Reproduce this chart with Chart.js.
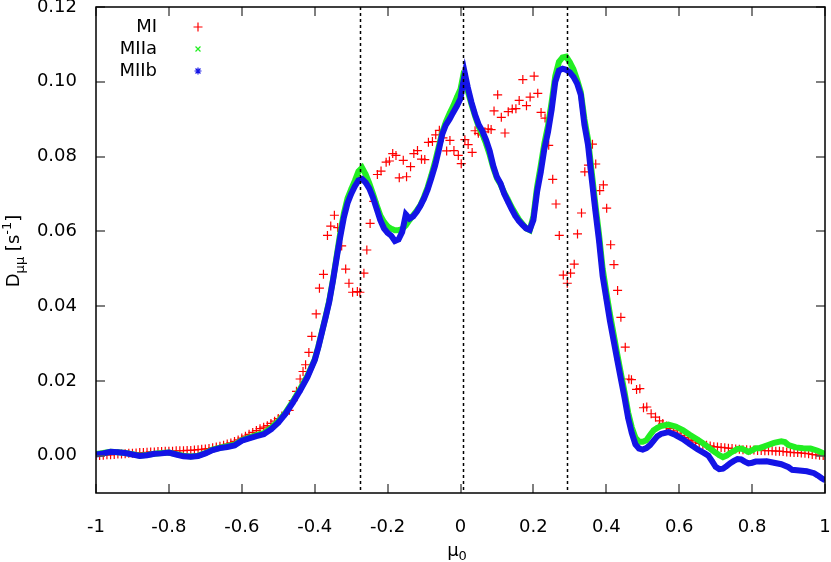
<!DOCTYPE html>
<html>
<head>
<meta charset="utf-8">
<script src="https://cdn.jsdelivr.net/npm/chart.js@4.4.0/dist/chart.umd.min.js"></script>
<style>
  html, body { margin: 0; padding: 0; background: #fff; }
  #wrap { width: 831px; height: 562px; position: relative; }
</style>
</head>
<body>
<div id="wrap"><canvas id="chart"></canvas></div>
<script>
// axis ticks
const xTicks = [-1, -0.8, -0.6, -0.4, -0.2, 0, 0.2, 0.4, 0.6, 0.8, 1];
const yTicks = [0, 0.02, 0.04, 0.06, 0.08, 0.1, 0.12];
// dotted reference lines (mu positions)
const markerLines = [-0.276, 0.006, 0.291];
const seriesNames = ["MI", "MIIa", "MIIb"];

// MI: [mu0, D]
const mi = [
  [-1.00,0.0000],[-0.99,0.0000],[-0.98,0.0001],[-0.97,0.0002],[-0.96,0.0002],[-0.95,0.0003],[-0.94,0.0004],
  [-0.93,0.0004],[-0.92,0.0005],[-0.91,0.0006],[-0.90,0.0006],[-0.89,0.0007],[-0.88,0.0008],[-0.87,0.0008],
  [-0.86,0.0009],[-0.85,0.0010],[-0.84,0.0010],[-0.83,0.0011],[-0.82,0.0011],[-0.81,0.0012],[-0.80,0.0012],
  [-0.79,0.0012],[-0.78,0.0013],[-0.77,0.0013],[-0.76,0.0013],[-0.75,0.0014],[-0.74,0.0014],[-0.73,0.0015],
  [-0.72,0.0016],[-0.71,0.0017],[-0.70,0.0018],[-0.69,0.0019],[-0.68,0.0021],[-0.67,0.0023],[-0.66,0.0025],
  [-0.65,0.0028],[-0.64,0.0031],[-0.63,0.0034],[-0.62,0.0038],[-0.61,0.0042],[-0.60,0.0047],[-0.59,0.0052],
  [-0.58,0.0057],[-0.57,0.0062],[-0.56,0.0067],[-0.55,0.0072],[-0.54,0.0076],[-0.53,0.0080],[-0.52,0.0086],
  [-0.51,0.0092],[-0.50,0.0099],[-0.49,0.0106],[-0.48,0.0113],[-0.47,0.0121],[-0.459,0.0147],[-0.45,0.0172],
  [-0.44,0.0205],[-0.432,0.0225],[-0.425,0.0243],[-0.416,0.0276],[-0.408,0.0319],[-0.396,0.0379],
  [-0.387,0.0448],[-0.376,0.0485],[-0.365,0.0589],[-0.356,0.0614],[-0.346,0.0643],[-0.337,0.0610],
  [-0.326,0.0561],[-0.315,0.0499],[-0.306,0.0461],[-0.296,0.0437],[-0.283,0.0439],[-0.276,0.0437],
  [-0.265,0.0488],[-0.257,0.0550],[-0.248,0.0621],[-0.238,0.0680],[-0.228,0.0752],[-0.218,0.0761],
  [-0.204,0.0785],[-0.195,0.0788],[-0.186,0.0808],[-0.177,0.0803],[-0.168,0.0743],[-0.157,0.0790],
  [-0.148,0.0746],[-0.137,0.0773],[-0.128,0.0808],[-0.118,0.0816],[-0.107,0.0793],[-0.098,0.0792],
  [-0.088,0.0838],[-0.077,0.0840],[-0.068,0.0858],[-0.058,0.0870],[-0.048,0.0850],[-0.038,0.0815],
  [-0.029,0.0843],[-0.018,0.0816],[-0.006,0.0803],[0.002,0.0781],[0.012,0.0845],[0.021,0.0832],
  [0.032,0.0811],[0.040,0.0869],[0.049,0.0862],[0.058,0.0858],[0.067,0.0866],[0.076,0.0874],
  [0.084,0.0872],[0.092,0.0922],[0.102,0.0965],[0.112,0.0905],[0.122,0.0863],[0.131,0.0920],
  [0.142,0.0927],[0.152,0.0928],[0.161,0.0950],[0.171,0.1006],[0.181,0.0936],[0.191,0.0959],
  [0.202,0.1015],[0.212,0.0969],[0.221,0.0918],[0.232,0.0903],[0.242,0.0830],[0.253,0.0739],
  [0.262,0.0673],[0.271,0.0589],[0.282,0.0483],[0.293,0.0461],[0.302,0.0488],[0.312,0.0512],
  [0.321,0.0593],[0.332,0.0649],[0.341,0.0759],[0.351,0.0777],[0.362,0.0833],[0.371,0.0780],
  [0.382,0.0709],[0.392,0.0724],[0.401,0.0662],[0.412,0.0564],[0.421,0.0511],[0.431,0.0442],
  [0.440,0.0370],[0.452,0.0290],[0.462,0.0205],[0.469,0.0203],[0.483,0.0177],[0.492,0.0179],
  [0.502,0.0128],[0.511,0.0130],[0.523,0.0112],[0.535,0.0103],[0.546,0.0093],[0.555,0.0086],
  [0.565,0.0079],[0.575,0.0072],[0.585,0.0066],[0.595,0.0060],[0.605,0.0054],[0.615,0.0049],
  [0.625,0.0044],[0.635,0.0040],[0.645,0.0036],[0.655,0.0033],[0.665,0.0030],[0.675,0.0028],
  [0.685,0.0026],[0.695,0.0024],[0.705,0.0023],[0.715,0.0022],[0.725,0.0021],[0.735,0.0020],
  [0.745,0.0019],[0.755,0.0018],[0.765,0.0017],[0.775,0.0016],[0.785,0.0016],[0.795,0.0015],
  [0.805,0.0015],[0.815,0.0014],[0.825,0.0014],[0.835,0.0013],[0.845,0.0013],[0.855,0.0013],
  [0.865,0.0012],[0.875,0.0012],[0.885,0.0011],[0.895,0.0010],[0.905,0.0009],[0.915,0.0008],
  [0.925,0.0008],[0.935,0.0007],[0.945,0.0006],[0.955,0.0005],[0.965,0.0003],[0.975,0.0002],
  [0.985,0.0001],[0.995,0.0000]
];

// MIIa: [mu0, D]
const miia = [
  [-1.00,0.0004],[-0.98,0.0007],[-0.96,0.0010],[-0.94,0.0009],[-0.92,0.0007],[-0.90,0.0004],[-0.88,0.0000],
  [-0.86,0.0002],[-0.84,0.0005],[-0.82,0.0007],[-0.80,0.0008],[-0.78,0.0004],[-0.76,0.0000],[-0.74,-0.0002],
  [-0.72,0.0000],[-0.70,0.0007],[-0.68,0.0016],[-0.66,0.0021],[-0.64,0.0025],[-0.62,0.0029],[-0.60,0.0041],
  [-0.58,0.0048],[-0.56,0.0055],[-0.54,0.0060],[-0.52,0.0074],[-0.50,0.0092],[-0.48,0.0115],[-0.46,0.0145],
  [-0.44,0.0178],[-0.42,0.0213],[-0.40,0.0257],[-0.39,0.0292],[-0.38,0.0332],[-0.37,0.0372],[-0.36,0.0415],
  [-0.35,0.0470],[-0.34,0.0532],[-0.33,0.0595],[-0.32,0.0648],[-0.31,0.0688],[-0.30,0.0712],[-0.29,0.0735],
  [-0.28,0.0760],[-0.27,0.0770],[-0.26,0.0752],[-0.25,0.0728],[-0.24,0.0700],[-0.23,0.0670],[-0.22,0.0642],
  [-0.21,0.0625],[-0.20,0.0613],[-0.19,0.0607],[-0.18,0.0603],[-0.17,0.0603],[-0.16,0.0606],[-0.15,0.0616],
  [-0.14,0.0630],[-0.13,0.0643],[-0.12,0.0655],[-0.11,0.0670],[-0.10,0.0692],[-0.09,0.0718],[-0.08,0.0750],
  [-0.07,0.0785],[-0.06,0.0825],[-0.05,0.0865],[-0.04,0.0893],[-0.03,0.0915],[-0.02,0.0935],[-0.01,0.0958],
  [0.00,0.0980],[0.006,0.1010],[0.012,0.1000],[0.02,0.0975],[0.03,0.0940],[0.04,0.0908],[0.05,0.0880],
  [0.06,0.0860],[0.07,0.0835],[0.08,0.0805],[0.09,0.0770],[0.10,0.0742],[0.11,0.0725],[0.12,0.0703],
  [0.13,0.0685],[0.14,0.0665],[0.15,0.0648],[0.16,0.0632],[0.17,0.0620],[0.18,0.0608],[0.19,0.0603],
  [0.20,0.0640],[0.21,0.0718],[0.22,0.0775],[0.23,0.0835],[0.24,0.0882],[0.25,0.0945],[0.26,0.1015],
  [0.27,0.1053],[0.28,0.1065],[0.29,0.1067],[0.30,0.1052],[0.31,0.1033],[0.32,0.1005],[0.33,0.0972],
  [0.34,0.0900],[0.35,0.0845],[0.36,0.0758],[0.37,0.0672],[0.38,0.0592],[0.39,0.0500],[0.40,0.0438],
  [0.41,0.0378],[0.42,0.0325],[0.43,0.0272],[0.44,0.0220],[0.45,0.0170],[0.46,0.0115],[0.47,0.0075],
  [0.48,0.0048],[0.49,0.0037],[0.50,0.0037],[0.51,0.0041],[0.52,0.0055],[0.53,0.0068],[0.54,0.0074],
  [0.55,0.0079],[0.57,0.0083],[0.59,0.0078],[0.61,0.0068],[0.63,0.0055],[0.65,0.0043],[0.67,0.0030],
  [0.69,0.0015],[0.70,0.0008],[0.71,0.0001],[0.72,-0.0004],[0.73,0.0000],[0.74,0.0007],[0.76,0.0018],
  [0.77,0.0019],[0.78,0.0015],[0.79,0.0010],[0.80,0.0014],[0.81,0.0020],[0.82,0.0020],[0.84,0.0027],
  [0.86,0.0034],[0.88,0.0038],[0.89,0.0036],[0.90,0.0028],[0.92,0.0022],[0.94,0.0020],[0.96,0.0019],
  [0.98,0.0013],[1.00,0.0004]
];

// MIIb: [mu0, D]
const miib = [
  [-1.00,0.0003],[-0.98,0.0006],[-0.96,0.0010],[-0.94,0.0009],[-0.92,0.0007],[-0.90,0.0003],[-0.88,-0.0001],
  [-0.86,0.0001],[-0.84,0.0005],[-0.82,0.0006],[-0.80,0.0008],[-0.78,0.0003],[-0.76,-0.0002],[-0.74,-0.0003],
  [-0.72,-0.0001],[-0.70,0.0006],[-0.68,0.0015],[-0.66,0.0020],[-0.64,0.0023],[-0.62,0.0027],[-0.60,0.0040],
  [-0.58,0.0046],[-0.56,0.0052],[-0.54,0.0057],[-0.52,0.0070],[-0.50,0.0088],[-0.48,0.0112],[-0.46,0.0142],
  [-0.44,0.0174],[-0.42,0.0210],[-0.40,0.0255],[-0.39,0.0290],[-0.38,0.0330],[-0.37,0.0370],[-0.36,0.0412],
  [-0.35,0.0467],[-0.34,0.0527],[-0.33,0.0585],[-0.32,0.0637],[-0.31,0.0675],[-0.30,0.0700],[-0.29,0.0720],
  [-0.28,0.0736],[-0.27,0.0740],[-0.26,0.0730],[-0.25,0.0714],[-0.24,0.0690],[-0.23,0.0660],[-0.22,0.0630],
  [-0.21,0.0608],[-0.20,0.0596],[-0.19,0.0588],[-0.18,0.0574],[-0.17,0.0578],[-0.16,0.0598],[-0.15,0.0645],
  [-0.14,0.0634],[-0.13,0.0640],[-0.12,0.0652],[-0.11,0.0668],[-0.10,0.0688],[-0.09,0.0712],[-0.08,0.0742],
  [-0.07,0.0775],[-0.06,0.0815],[-0.05,0.0860],[-0.04,0.0885],[-0.03,0.0900],[-0.02,0.0918],[-0.01,0.0935],
  [0.00,0.0955],[0.005,0.0985],[0.012,0.1022],[0.02,0.0985],[0.03,0.0945],[0.04,0.0912],[0.05,0.0885],
  [0.06,0.0868],[0.07,0.0845],[0.08,0.0815],[0.09,0.0775],[0.10,0.0745],[0.11,0.0728],[0.12,0.0700],
  [0.13,0.0680],[0.14,0.0660],[0.15,0.0642],[0.16,0.0628],[0.17,0.0617],[0.18,0.0608],[0.19,0.0604],
  [0.20,0.0630],[0.21,0.0705],[0.22,0.0757],[0.23,0.0820],[0.24,0.0865],[0.25,0.0925],[0.26,0.1000],
  [0.27,0.1030],[0.28,0.1035],[0.29,0.1032],[0.30,0.1025],[0.31,0.1013],[0.32,0.0995],[0.33,0.0965],
  [0.34,0.0885],[0.35,0.0830],[0.36,0.0740],[0.37,0.0655],[0.38,0.0575],[0.39,0.0480],[0.40,0.0420],
  [0.41,0.0360],[0.42,0.0308],[0.43,0.0256],[0.44,0.0205],[0.45,0.0155],[0.46,0.0100],[0.47,0.0060],
  [0.48,0.0030],[0.49,0.0019],[0.50,0.0016],[0.51,0.0020],[0.52,0.0028],[0.53,0.0040],[0.54,0.0052],
  [0.55,0.0058],[0.57,0.0063],[0.59,0.0055],[0.61,0.0044],[0.63,0.0030],[0.65,0.0017],[0.67,0.0006],
  [0.68,0.0000],[0.69,-0.0015],[0.70,-0.0030],[0.71,-0.0036],[0.72,-0.0035],[0.73,-0.0028],[0.74,-0.0020],
  [0.75,-0.0014],[0.76,-0.0009],[0.77,-0.0010],[0.78,-0.0016],[0.79,-0.0021],[0.80,-0.0019],[0.81,-0.0016],
  [0.82,-0.0016],[0.84,-0.0015],[0.86,-0.0019],[0.88,-0.0023],[0.90,-0.0031],[0.91,-0.0038],[0.93,-0.0040],
  [0.95,-0.0042],[0.97,-0.0047],[0.98,-0.0053],[0.99,-0.0060],[1.00,-0.0066]
];

const FONT = '"DejaVu Sans", sans-serif';
const RED = "#ff0000";
const GREEN = "#22ee22";
const BLUE = "#1414e6";

const toXY = (arr) => arr.map(([x, y]) => ({ x, y }));

// gnuplot-like frame, inward ticks, dotted lines, axis titles, key
const decorations = {
  id: "decorations",
  afterDatasetsDraw(chart) {
    const { ctx, chartArea: a, scales: { x } } = chart;
    ctx.save();
    ctx.strokeStyle = "#000";
    ctx.lineWidth = 1.5;
    ctx.setLineDash([3, 3]);
    markerLines.forEach((m) => {
      const px = Math.round(x.getPixelForValue(m)) + 0.5;
      ctx.beginPath();
      ctx.moveTo(px, a.top);
      ctx.lineTo(px, a.bottom);
      ctx.stroke();
    });
    ctx.restore();
  },
  afterDraw(chart) {
    const { ctx, chartArea: a, scales: { x, y } } = chart;
    ctx.save();
    ctx.setLineDash([]);

    // inward ticks on all four sides
    ctx.strokeStyle = "#555";
    ctx.lineWidth = 1.5;
    const len = 9;
    const L = Math.round(a.left), R = Math.round(a.right);
    const T = Math.round(a.top), B = Math.round(a.bottom);
    xTicks.forEach((v) => {
      const px = Math.round(x.getPixelForValue(v));
      ctx.beginPath();
      ctx.moveTo(px, B); ctx.lineTo(px, B - len);
      ctx.moveTo(px, T); ctx.lineTo(px, T + len);
      ctx.stroke();
    });
    yTicks.forEach((v) => {
      const py = Math.round(y.getPixelForValue(v));
      ctx.beginPath();
      ctx.moveTo(L, py); ctx.lineTo(L + len, py);
      ctx.moveTo(R, py); ctx.lineTo(R - len, py);
      ctx.stroke();
    });

    // frame
    ctx.strokeStyle = "#000";
    ctx.lineWidth = 1.5;
    ctx.strokeRect(L, T, R - L, B - T);

    ctx.fillStyle = "#000";

    // y title: D_{μμ} [s^{-1}]
    const yParts = [
      { t: "D", s: 18, dy: 0 },
      { t: "μμ", s: 13, dy: 5 },
      { t: " [s", s: 18, dy: 0 },
      { t: "-1", s: 13, dy: -8 },
      { t: "]", s: 18, dy: 0 },
    ];
    let total = 0;
    yParts.forEach((p) => { ctx.font = p.s + "px " + FONT; p.w = ctx.measureText(p.t).width; total += p.w; });
    ctx.translate(19, 251);
    ctx.rotate(-Math.PI / 2);
    ctx.textBaseline = "alphabetic";
    ctx.textAlign = "left";
    let cx = -total / 2;
    yParts.forEach((p) => { ctx.font = p.s + "px " + FONT; ctx.fillText(p.t, cx, p.dy); cx += p.w; });
    ctx.setTransform(1, 0, 0, 1, 0, 0);

    // x title: μ_0
    ctx.font = "18px " + FONT;
    const wMu = ctx.measureText("μ").width;
    ctx.font = "13px " + FONT;
    const w0 = ctx.measureText("0").width;
    const sx = 457 - (wMu + w0) / 2;
    ctx.font = "18px " + FONT;
    ctx.fillText("μ", sx, 556);
    ctx.font = "13px " + FONT;
    ctx.fillText("0", sx + wMu, 560);

    // key
    const keyStyles = [
      { style: "cross", color: RED, r: 4.5 },
      { style: "crossRot", color: GREEN, r: 3.5 },
      { style: "star", color: BLUE, r: 3.5 },
    ];
    ctx.font = "18px " + FONT;
    ctx.textAlign = "right";
    ctx.textBaseline = "middle";
    seriesNames.forEach((name, i) => {
      const ky = 27 + i * 22;
      ctx.fillStyle = "#000";
      ctx.fillText(name, 157, ky);
      ctx.strokeStyle = keyStyles[i].color;
      ctx.fillStyle = keyStyles[i].color;
      ctx.lineWidth = 1.2;
      Chart.helpers.drawPoint(ctx, { pointStyle: keyStyles[i].style, radius: keyStyles[i].r, rotation: 0, borderWidth: 1.2 }, 198, ky);
    });
    ctx.restore();
  },
};

Chart.defaults.color = "#000";
Chart.defaults.font.family = FONT;
Chart.defaults.font.size = 18;

new Chart(document.getElementById("chart"), {
  type: "scatter",
  data: {
    datasets: [
      {
        label: seriesNames[2],
        data: toXY(miib),
        showLine: true,
        borderColor: BLUE,
        backgroundColor: BLUE,
        borderWidth: 6,
        pointStyle: "star",
        pointRadius: 2.5,
        pointBorderWidth: 1,
        order: 0,
      },
      {
        label: seriesNames[1],
        data: toXY(miia),
        showLine: true,
        borderColor: GREEN,
        backgroundColor: GREEN,
        borderWidth: 6,
        pointStyle: "crossRot",
        pointRadius: 2.5,
        pointBorderWidth: 1,
        order: 1,
      },
      {
        label: seriesNames[0],
        data: toXY(mi),
        showLine: false,
        borderColor: RED,
        backgroundColor: RED,
        pointStyle: "cross",
        pointRadius: 4.5,
        pointBorderWidth: 1.2,
        order: 2,
      },
    ],
  },
  options: {
    responsive: true,
    maintainAspectRatio: false,
    animation: false,
    layout: { padding: { top: 7, right: 6, left: 0, bottom: 0 } },
    plugins: { legend: { display: false }, tooltip: { enabled: false } },
    scales: {
      x: {
        type: "linear",
        min: -1,
        max: 1,
        grid: { display: false },
        border: { display: false },
        afterBuildTicks: (s) => { s.ticks = xTicks.map((v) => ({ value: v })); },
        afterFit: (s) => { s.height = 69; s.paddingLeft = 0; s.paddingRight = 0; },
        ticks: {
          padding: 16,
          maxRotation: 0,
          callback: (v) => String(Number(v.toFixed(1))),
        },
      },
      y: {
        min: -0.01,
        max: 0.12,
        grid: { display: false },
        border: { display: false },
        afterBuildTicks: (s) => { s.ticks = yTicks.map((v) => ({ value: v })); },
        afterFit: (s) => { s.width = 96; s.paddingTop = 0; s.paddingBottom = 0; },
        ticks: {
          padding: 11,
          callback: (v) => v.toFixed(2),
        },
      },
    },
  },
  plugins: [decorations],
});
</script>
</body>
</html>
